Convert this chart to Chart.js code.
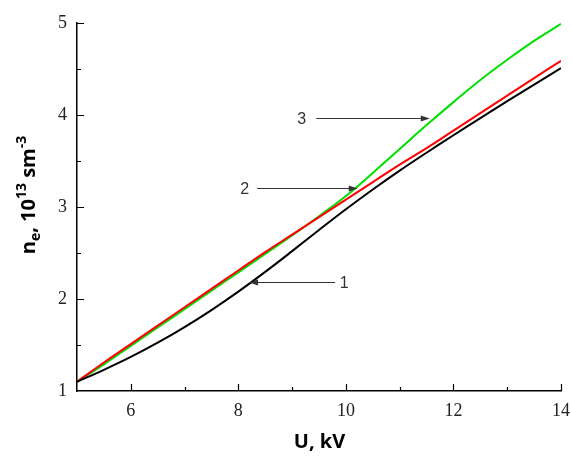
<!DOCTYPE html>
<html>
<head>
<meta charset="utf-8">
<script src="https://cdn.jsdelivr.net/npm/chart.js@4.4.1/dist/chart.umd.min.js"></script>
<style>
  html, body { margin: 0; padding: 0; background: #fff; }
  #wrap { width: 571px; height: 459px; }
</style>
</head>
<body>
<div id="wrap"><canvas id="myChart" width="571" height="459"></canvas></div>
<script>
// U, kV
const voltage = [5, 5.5, 6, 6.5, 7, 7.5, 8, 8.5, 9, 9.5, 10, 10.5, 11, 11.5, 12, 12.5, 13, 13.5, 14];
// n_e, 10^13 sm^-3
const curve1 = [1.10, 1.23, 1.37, 1.525, 1.695, 1.88, 2.08, 2.295, 2.52, 2.75, 2.975, 3.19, 3.395, 3.59, 3.78, 3.965, 4.15, 4.33, 4.51];
const curve2 = [1.10, 1.31, 1.51, 1.71, 1.91, 2.11, 2.31, 2.51, 2.70, 2.89, 3.08, 3.27, 3.46, 3.64, 3.83, 4.02, 4.21, 4.40, 4.59];
const curve3 = [1.10, 1.29, 1.49, 1.69, 1.89, 2.09, 2.29, 2.49, 2.69, 2.90, 3.12, 3.37, 3.63, 3.89, 4.14, 4.38, 4.60, 4.805, 4.99];

// arrow labels: [text, label x, tail x, tip x, y]
const arrowNotes = [
    ['1', 9.97, 9.80, 8.20, 2.18],
    ['2', 8.12, 8.35, 10.22, 3.21],
    ['3', 9.18, 9.45, 11.56, 3.97]
];

const xTickLabels = [6, 8, 10, 12, 14];
const yTickLabels = [1, 2, 3, 4, 5];

function pts(ys) {
    return voltage.map((x, i) => ({ x: x, y: ys[i] }));
}

const decor = {
    id: 'decor',
    afterDraw(chart) {
        const c = chart.ctx;
        const xs = chart.scales.x;
        const ys = chart.scales.y;
        const area = chart.chartArea;

        c.save();
        // inward ticks
        c.strokeStyle = '#000';
        c.lineWidth = 1.2;
        c.beginPath();
        for (let v = 6; v <= 14; v++) {
            const px = Math.round(xs.getPixelForValue(v)) + 0.5;
            const len = xTickLabels.includes(v) ? 7 : 4;
            c.moveTo(px, area.bottom);
            c.lineTo(px, area.bottom - len);
        }
        for (let v = 1.5; v <= 5; v += 0.5) {
            const py = Math.round(ys.getPixelForValue(v)) + 0.5;
            const len = yTickLabels.includes(v) ? 7 : 4;
            c.moveTo(area.left, py);
            c.lineTo(area.left + len, py);
        }
        c.stroke();

        // arrows
        c.strokeStyle = '#333';
        c.fillStyle = '#333';
        c.lineWidth = 1;
        c.font = '16px "Liberation Sans", Arial, sans-serif';
        c.textAlign = 'center';
        c.textBaseline = 'middle';
        arrowNotes.forEach(a => {
            const lx = xs.getPixelForValue(a[1]);
            const tx = xs.getPixelForValue(a[2]);
            const hx = xs.getPixelForValue(a[3]);
            const py = Math.round(ys.getPixelForValue(a[4])) + 0.5;
            const dir = hx > tx ? 1 : -1;
            c.beginPath();
            c.moveTo(tx, py);
            c.lineTo(hx - dir * 7, py);
            c.stroke();
            c.beginPath();
            c.moveTo(hx, py);
            c.lineTo(hx - dir * 9, py - 3);
            c.lineTo(hx - dir * 9, py + 3);
            c.closePath();
            c.fill();
            c.fillText(a[0], lx, py + 1);
        });

        // x title
        c.fillStyle = '#000';
        c.font = 'bold 20px "Open Sans", sans-serif';
        c.textAlign = 'center';
        c.textBaseline = 'alphabetic';
        c.fillText('U, kV', (area.left + area.right) / 2 + 0.5, 448);

        // y title with sub/superscripts
        const parts = [
            ['n', 20, 0],
            ['e', 14, 5],
            [', 10', 20, 0],
            ['13', 14, -9],
            [' sm', 20, 0],
            ['-3', 14, -9]
        ];
        let total = 0;
        parts.forEach(p => {
            c.font = 'bold ' + p[1] + 'px "Open Sans", sans-serif';
            total += c.measureText(p[0]).width;
        });
        c.translate(35, 195);
        c.rotate(-Math.PI / 2);
        c.textAlign = 'left';
        let pos = -total / 2;
        parts.forEach(p => {
            c.font = 'bold ' + p[1] + 'px "Open Sans", sans-serif';
            c.fillText(p[0], pos, p[2]);
            pos += c.measureText(p[0]).width;
        });
        c.restore();
    }
};

new Chart(
    document.getElementById('myChart'),
    {
        type: 'line',
        data: {
            datasets: [
                { label: '1', data: pts(curve1), borderColor: '#000000' },
                { label: '2', data: pts(curve2), borderColor: '#ff0000' },
                { label: '3', data: pts(curve3), borderColor: '#00e000' }
            ]
        },
        options: {
            responsive: false,
            animation: false,
            devicePixelRatio: 1,
            layout: { padding: { top: 23, right: 10, left: 0, bottom: 0 } },
            elements: {
                line: { borderWidth: 2, tension: 0.4 },
                point: { radius: 0 }
            },
            scales: {
                x: {
                    type: 'linear',
                    min: 5,
                    max: 14,
                    grid: { display: false, drawTicks: false },
                    border: { display: true, color: '#000', width: 1.5 },
                    ticks: {
                        stepSize: 1,
                        autoSkip: false,
                        maxRotation: 0,
                        padding: 9,
                        color: '#222',
                        font: { family: '"Liberation Serif", "Times New Roman", serif', size: 18 },
                        callback: v => xTickLabels.includes(v) ? String(v) : ''
                    },
                    afterFit: s => { s.height = 68; s.paddingRight = 0; s.paddingLeft = 0; }
                },
                y: {
                    min: 1,
                    max: 5,
                    grid: { display: false, drawTicks: false },
                    border: { display: true, color: '#000', width: 1.5 },
                    ticks: {
                        stepSize: 0.5,
                        autoSkip: false,
                        padding: 10,
                        color: '#222',
                        font: { family: '"Liberation Serif", "Times New Roman", serif', size: 18 },
                        callback: v => yTickLabels.includes(v) ? String(v) : ''
                    },
                    afterFit: s => { s.width = 77; s.paddingTop = 0; s.paddingBottom = 0; }
                }
            },
            plugins: {
                legend: { display: false },
                tooltip: { enabled: false }
            }
        },
        plugins: [decor]
    }
);
</script>
</body>
</html>
